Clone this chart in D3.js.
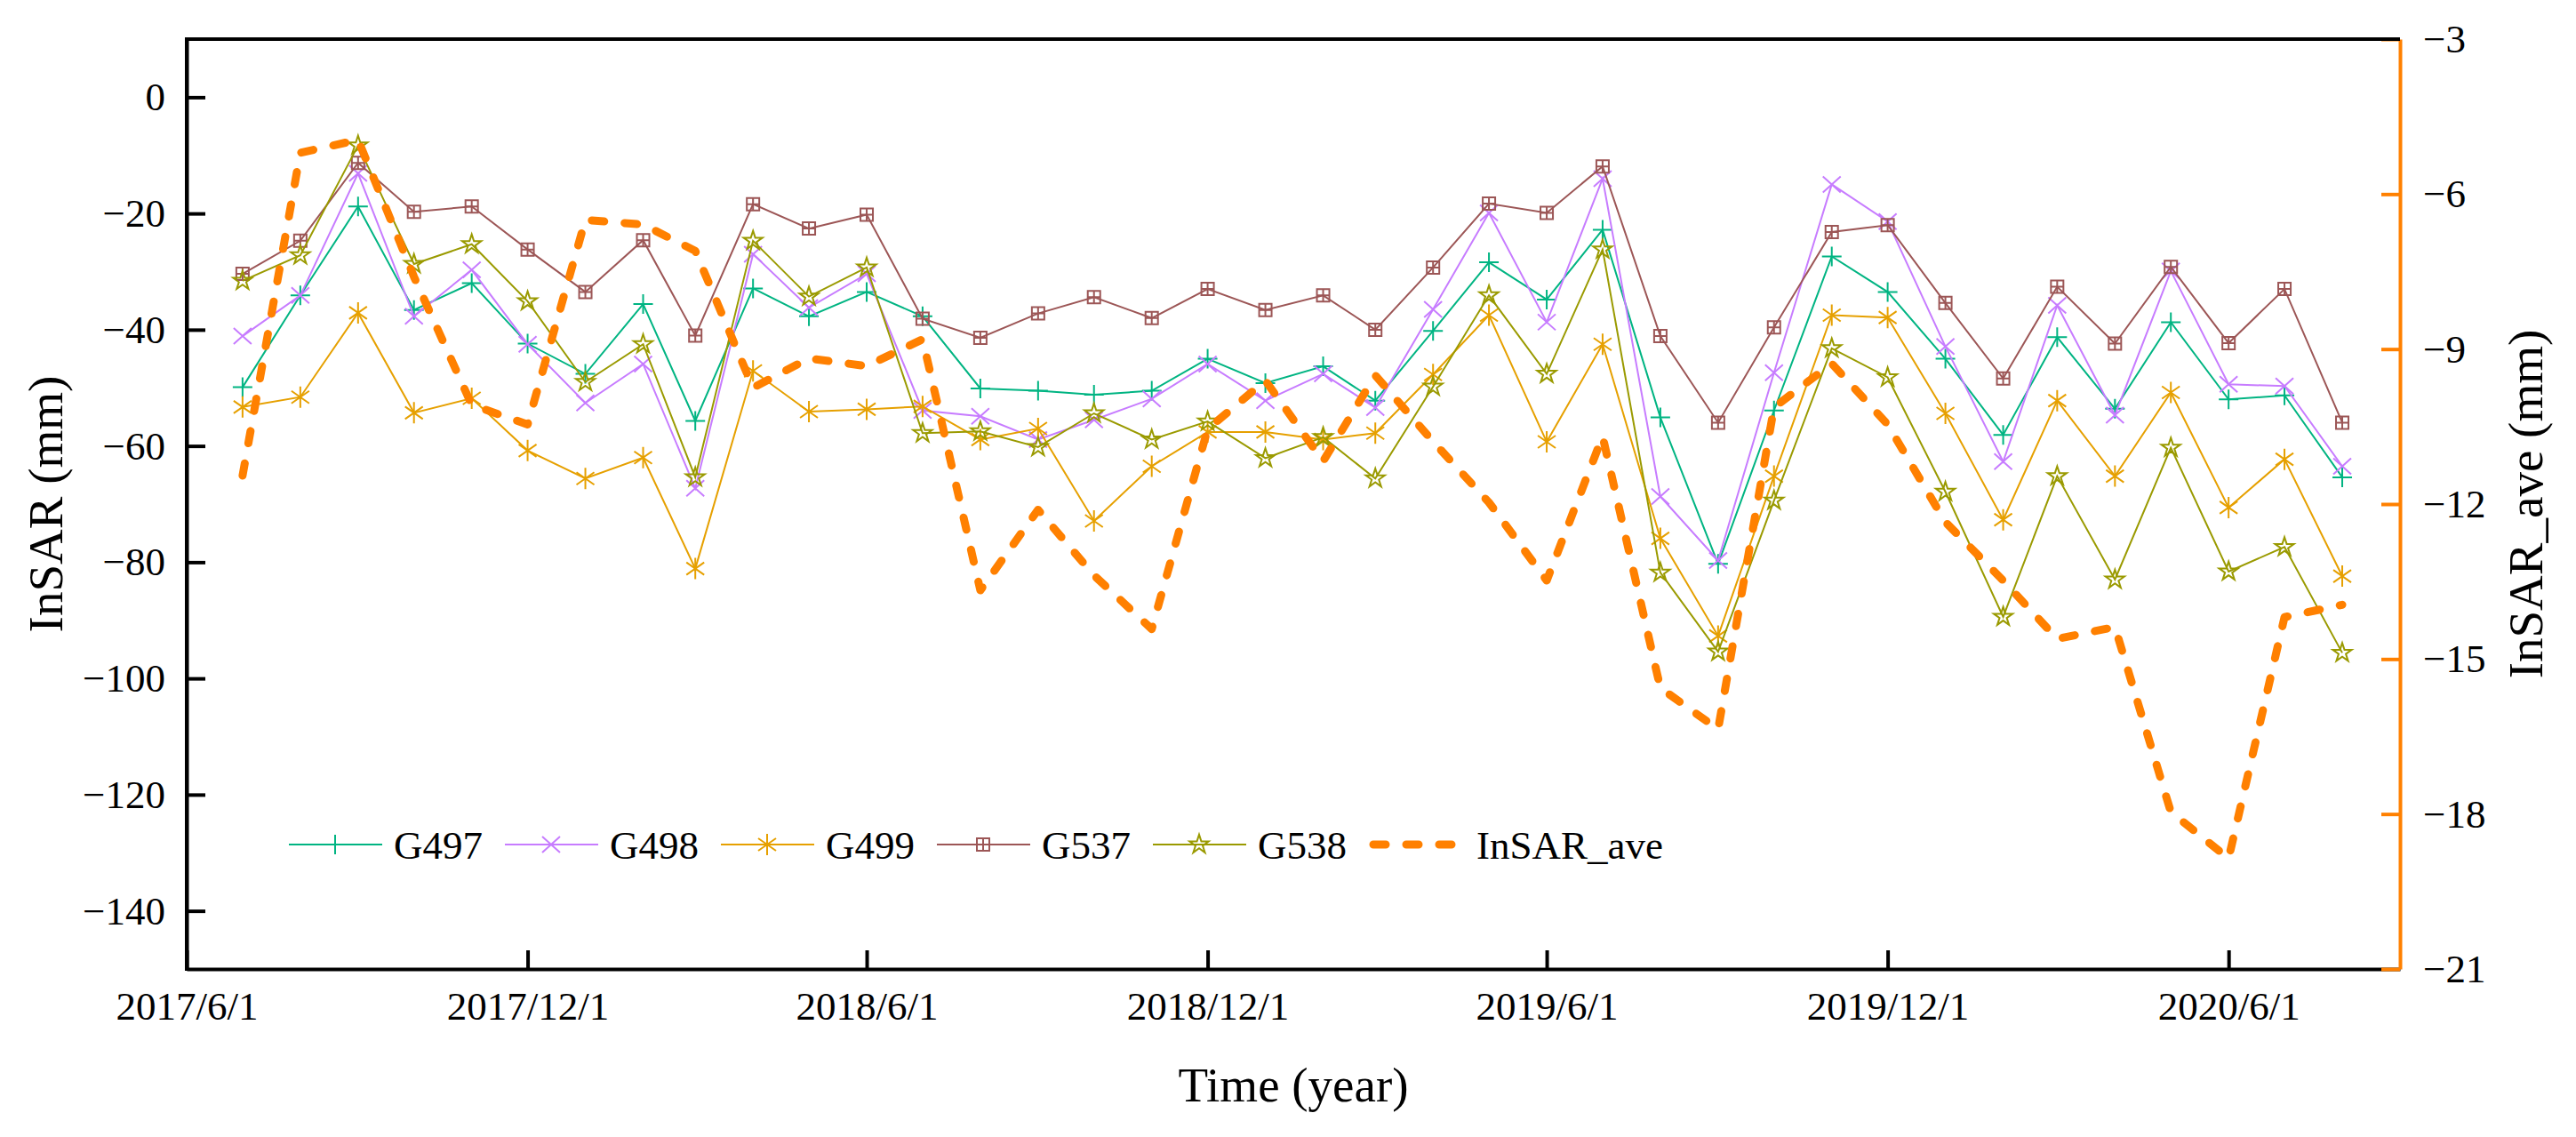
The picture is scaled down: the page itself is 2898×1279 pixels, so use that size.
<!DOCTYPE html>
<html>
<head>
<meta charset="utf-8">
<script src="https://cdn.jsdelivr.net/npm/d3@7/dist/d3.min.js"></script>
<style>
    body { margin: 0; background: #fff; }
    svg { display: block; font-family: "Liberation Serif", "Times New Roman", serif; }
</style>
</head>
<body>
<svg id="chart" width="2898" height="1279"></svg>
<script>
// monthly observation dates
var months = ['2017/7/1', '2017/8/1', '2017/9/1', '2017/10/1', '2017/11/1', '2017/12/1',
    '2018/1/1', '2018/2/1', '2018/3/1', '2018/4/1', '2018/5/1', '2018/6/1',
    '2018/7/1', '2018/8/1', '2018/9/1', '2018/10/1', '2018/11/1', '2018/12/1',
    '2019/1/1', '2019/2/1', '2019/3/1', '2019/4/1', '2019/5/1', '2019/6/1',
    '2019/7/1', '2019/8/1', '2019/9/1', '2019/10/1', '2019/11/1', '2019/12/1',
    '2020/1/1', '2020/2/1', '2020/3/1', '2020/4/1', '2020/5/1', '2020/6/1',
    '2020/7/1', '2020/8/1'];

var g497 = [-49.9, -34.1, -18.8, -36.6, -32.0, -42.4, -47.6, -35.6, -55.7, -32.9, -37.7, -33.5,
    -37.7, -50.1, -50.5, -51.2, -50.5, -45.0, -49.2, -46.3, -52.2, -40.2, -28.4, -34.8,
    -22.8, -55.1, -80.3, -53.9, -27.4, -33.5, -45.0, -58.1, -41.3, -53.6, -38.7, -52.0,
    -51.3, -65.4];
var g498 = [-41.1, -34.1, -13.1, -37.7, -29.7, -42.5, -52.6, -45.9, -67.3, -27.0, -36.2, -30.4,
    -53.9, -54.9, -58.9, -55.5, -51.9, -45.9, -52.2, -47.6, -53.4, -36.5, -19.9, -38.7,
    -14.0, -68.7, -79.7, -47.4, -15.0, -21.4, -42.9, -62.7, -35.8, -54.7, -29.9, -49.4,
    -49.7, -63.5];
var g499 = [-53.3, -51.6, -37.1, -54.3, -51.8, -60.8, -65.6, -62.0, -81.1, -47.1, -54.1, -53.7,
    -53.2, -58.9, -57.0, -72.9, -63.5, -57.6, -57.6, -58.9, -57.8, -47.7, -37.5, -59.3,
    -42.5, -75.9, -92.7, -65.2, -37.5, -37.9, -54.4, -72.7, -52.2, -65.2, -50.8, -70.6,
    -62.3, -82.4];
var g537 = [-30.4, -24.7, -11.3, -19.7, -18.8, -26.2, -33.5, -24.6, -41.0, -18.4, -22.6, -20.2,
    -38.1, -41.4, -37.2, -34.4, -38.0, -33.0, -36.6, -34.1, -40.0, -29.3, -18.3, -19.9,
    -11.9, -41.1, -56.0, -39.6, -23.2, -22.0, -35.4, -48.4, -32.6, -42.4, -29.2, -42.3,
    -33.0, -56.0];
var g538 = [-31.6, -27.2, -8.3, -28.7, -25.3, -35.1, -49.0, -42.5, -65.4, -24.7, -34.3, -29.3,
    -57.8, -57.5, -60.2, -54.4, -58.9, -55.8, -62.1, -58.5, -65.6, -49.8, -34.1, -47.6,
    -26.2, -81.8, -95.4, -69.4, -43.2, -48.2, -67.9, -89.4, -65.2, -83.0, -60.3, -81.6,
    -77.4, -95.6];
// right axis series
var insarAve = [-11.45, -5.2, -4.95, -7.6, -10.08, -10.46, -6.5, -6.59, -7.1, -9.75, -9.18, -9.33,
    -8.81, -13.67, -12.11, -13.38, -14.42, -10.55, -9.61, -11.17, -9.51, -10.79, -11.97, -13.48,
    -10.69, -15.56, -16.36, -10.13, -9.28, -10.46, -12.35, -13.48, -14.61, -14.38, -17.96, -18.86,
    -14.19, -13.95];

var xTickLabels = ['2017/6/1', '2017/12/1', '2018/6/1', '2018/12/1', '2019/6/1', '2019/12/1', '2020/6/1'];
var yTicks = [0, -20, -40, -60, -80, -100, -120, -140];
var yRightTicks = [-3, -6, -9, -12, -15, -18, -21];
var seriesNames = ['G497', 'G498', 'G499', 'G537', 'G538', 'InSAR_ave'];

var parseDate = d3.timeParse('%Y/%m/%d');

var W = 2898, H = 1279;
var margin = {left: 210, right: 198, top: 44, bottom: 189};
var plotW = W - margin.left - margin.right,
    plotH = H - margin.top - margin.bottom;

var x = d3.scaleTime()
    .domain([parseDate('2017/6/1'), parseDate('2020/9/1')])
    .range([0, plotW]);
var y = d3.scaleLinear().domain([-150, 10]).range([plotH, 0]);
var yR = d3.scaleLinear().domain([-21, -3]).range([plotH, 0]);

var ORANGE = '#ff8000';

var svg = d3.select('#chart');
svg.append('rect').attr('width', W).attr('height', H).attr('fill', '#fff');

var g = svg.append('g')
    .attr('transform', 'translate(' + margin.left + ',' + margin.top + ')');

// marker shapes
function markerPath(kind) {
    if (kind === 'plus') return 'M-11,0H11M0,-11V11';
    if (kind === 'cross') return 'M-10,-9L10,9M-10,9L10,-9';
    if (kind === 'aster') return 'M0,-12V12M-10,-7L10,7M-10,7L10,-7';
    if (kind === 'square') return 'M-7,-7H7V7H-7ZM-7,0H7M0,-7V7';
    return d3.symbol().type(d3.symbolStar).size(140)();
}

var series = [
    {name: 'G497', values: g497, color: '#00b482', marker: 'plus'},
    {name: 'G498', values: g498, color: '#c77cff', marker: 'cross'},
    {name: 'G499', values: g499, color: '#e6a000', marker: 'aster'},
    {name: 'G537', values: g537, color: '#9c5656', marker: 'square'},
    {name: 'G538', values: g538, color: '#9a9a00', marker: 'star'}
];

var dates = months.map(parseDate);

var line = d3.line()
    .x(function (d) { return x(d.date); })
    .y(function (d) { return y(d.v); });

series.forEach(function (s) {
    var pts = s.values.map(function (v, i) { return {date: dates[i], v: v}; });
    g.append('path')
        .datum(pts)
        .attr('fill', 'none')
        .attr('stroke', s.color)
        .attr('stroke-width', 2)
        .attr('d', line);
    g.selectAll(null)
        .data(pts)
        .enter().append('path')
        .attr('transform', function (d) { return 'translate(' + x(d.date) + ',' + y(d.v) + ')'; })
        .attr('d', markerPath(s.marker))
        .attr('fill', 'none')
        .attr('stroke', s.color)
        .attr('stroke-width', 2);
});

var lineR = d3.line()
    .x(function (d) { return x(d.date); })
    .y(function (d) { return yR(d.v); });

g.append('path')
    .datum(insarAve.map(function (v, i) { return {date: dates[i], v: v}; }))
    .attr('fill', 'none')
    .attr('stroke', ORANGE)
    .attr('stroke-width', 9)
    .attr('stroke-linecap', 'round')
    .attr('stroke-linejoin', 'round')
    .attr('stroke-dasharray', '14,23')
    .attr('d', lineR);

// axes
var fontSize = 45;

var xAxis = d3.axisBottom(x)
    .tickValues(xTickLabels.map(parseDate))
    .tickFormat(function (d, i) { return xTickLabels[i]; })
    .tickSizeInner(-21)
    .tickSizeOuter(0)
    .tickPadding(25);

var gx = g.append('g')
    .attr('transform', 'translate(0,' + plotH + ')')
    .call(xAxis);

var gy = g.append('g')
    .call(d3.axisLeft(y).tickValues(yTicks).tickSizeInner(-21).tickSizeOuter(0).tickPadding(24));

var gyR = g.append('g')
    .attr('transform', 'translate(' + plotW + ',0)')
    .call(d3.axisRight(yR).tickValues(yRightTicks).tickSizeInner(-21).tickSizeOuter(0).tickPadding(26));

[gx, gy, gyR].forEach(function (a) {
    a.selectAll('text')
        .attr('font-size', fontSize)
        .attr('font-family', '"Liberation Serif", serif')
        .attr('fill', '#000');
    a.selectAll('line').attr('stroke-width', 4);
    a.select('.domain').attr('stroke-width', 4);
});
gx.selectAll('.tick line').attr('stroke', '#000');
gyR.select('.domain').attr('stroke', ORANGE);
gyR.selectAll('.tick line').attr('stroke', ORANGE);

// top border
g.append('line')
    .attr('x1', 0).attr('x2', plotW)
    .attr('y1', 0).attr('y2', 0)
    .attr('stroke', '#000')
    .attr('stroke-width', 4);
// left axis line drawn on top
g.append('line')
    .attr('x1', 0).attr('x2', 0)
    .attr('y1', -2).attr('y2', plotH + 2)
    .attr('stroke', '#000')
    .attr('stroke-width', 4);

// titles
svg.append('text')
    .attr('transform', 'translate(70,' + (margin.top + plotH / 2) + ') rotate(-90)')
    .attr('text-anchor', 'middle')
    .attr('font-size', 55)
    .text('InSAR (mm)');

svg.append('text')
    .attr('transform', 'translate(2860,' + (margin.top + plotH / 2) + ') rotate(-90)')
    .attr('text-anchor', 'middle')
    .attr('font-size', 55)
    .text('InSAR_ave (mm)');

svg.append('text')
    .attr('x', margin.left + plotW / 2)
    .attr('y', 1239)
    .attr('text-anchor', 'middle')
    .attr('font-size', 55)
    .text('Time (year)');

// legend
var legend = svg.append('g').attr('transform', 'translate(325,950)');
var legendStep = 243;

seriesNames.forEach(function (name, i) {
    var item = legend.append('g').attr('transform', 'translate(' + (i * legendStep) + ',0)');
    if (i < series.length) {
        var s = series[i];
        item.append('line')
            .attr('x1', 0).attr('x2', 105)
            .attr('stroke', s.color).attr('stroke-width', 2);
        item.append('path')
            .attr('transform', 'translate(52,0)')
            .attr('d', markerPath(s.marker))
            .attr('fill', 'none')
            .attr('stroke', s.color)
            .attr('stroke-width', 2);
    } else {
        item.append('line')
            .attr('x1', 5).attr('x2', 100)
            .attr('stroke', ORANGE)
            .attr('stroke-width', 9)
            .attr('stroke-linecap', 'round')
            .attr('stroke-dasharray', '14,23');
    }
    item.append('text')
        .attr('x', i < series.length ? 118 : 121)
        .attr('y', 16)
        .attr('font-size', fontSize)
        .text(name);
});
</script>
</body>
</html>
